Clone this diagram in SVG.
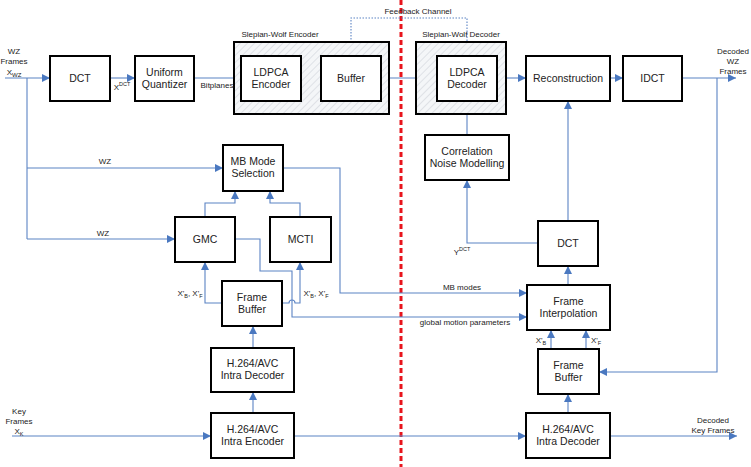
<svg xmlns="http://www.w3.org/2000/svg" width="751" height="467" viewBox="0 0 751 467">
<style>
.box{fill:#fff;stroke:#000;stroke-width:2}
.sw{fill:url(#hatch);stroke:#000;stroke-width:2}
.t{font-family:"Liberation Sans",Arial,sans-serif;font-size:10.5px;fill:#222;text-anchor:middle}
.s{font-family:"Liberation Sans",Arial,sans-serif;font-size:8px;fill:#222;text-anchor:middle}
.c{fill:none;stroke:#5b83c4;stroke-width:1.1}
.a{marker-end:url(#arr)}
.dot{fill:none;stroke:#5b83c4;stroke-width:1.1;stroke-dasharray:1.5,1.5}
</style>
<defs>
<pattern id="hatch" patternUnits="userSpaceOnUse" width="5" height="5" patternTransform="rotate(45)">
<rect width="5" height="5" fill="#f4f6f8"/>
<line x1="0" y1="0" x2="0" y2="5" stroke="#c8cdd4" stroke-width="1"/>
</pattern>
<marker id="arr" markerUnits="userSpaceOnUse" markerWidth="8" markerHeight="8" refX="8" refY="4" orient="auto">
<path d="M0,0 L8,4 L0,8 z" fill="#4a78c0"/>
</marker>
</defs>

<line x1="401" y1="0" x2="401" y2="467" stroke="#e8141c" stroke-width="3" stroke-dasharray="5,3"/>

<g id="connectors">
<path class="c a" d="M5,78 H50"/>
<path class="c a" d="M110,78 H135"/>
<path class="c a" d="M194,78 H241"/>
<path class="c a" d="M301,78 H321"/>
<path class="c a" d="M381,78 H437"/>
<path class="c a" d="M497,78 H526"/>
<path class="c a" d="M610,78 H623"/>
<path class="c a" d="M682,78 H736"/>
<path class="dot a" d="M467,56 V18 H351 V56"/>
<path class="c" d="M27,78 V239"/>
<path class="c a" d="M27,168 H223"/>
<path class="c a" d="M27,239 H175"/>
<path class="c a" d="M205,217 V203 H235 V191"/>
<path class="c a" d="M300,217 V203 H270 V191"/>
<path class="c a" d="M222,303 H205 V262"/>
<path class="c a" d="M282,303 H289 A3,3 0 0 1 295,303 H300 V262"/>
<path class="c a" d="M283,168 H340 V293 H527"/>
<path class="c a" d="M235,239 H260 V271 H292 V317 H527"/>
<path class="c a" d="M253,348 V326"/>
<path class="c a" d="M253,413 V392"/>
<path class="c a" d="M12,436 H211"/>
<path class="c a" d="M294,436 H526"/>
<path class="c a" d="M610,436 H737"/>
<path class="c a" d="M568,413 V394"/>
<path class="c a" d="M551,349 V330"/>
<path class="c a" d="M586,349 V330"/>
<path class="c a" d="M568,285 V266"/>
<path class="c a" d="M568,221 V101"/>
<path class="c a" d="M538,243 H467 V180"/>
<path class="c a" d="M467,135 V101"/>
<path class="c a" d="M717,78 V372 H599"/>
</g>

<g id="sw-encoder"><rect class="sw" x="234" y="42" width="155" height="72"/><text class="s" x="280" y="37">Slepian-Wolf Encoder</text></g>
<g id="sw-decoder"><rect class="sw" x="416" y="42" width="90" height="72"/><text class="s" x="461" y="37">Slepian-Wolf Decoder</text></g>

<g id="dct1"><rect class="box" x="50" y="56" width="60" height="45"/><text class="t" x="80" y="82">DCT</text></g>
<g id="quant"><rect class="box" x="135" y="56" width="59" height="45"/><text class="t" x="164.500" y="76">Uniform</text><text class="t" x="164.500" y="88">Quantizer</text></g>
<g id="ldpca-enc"><rect class="box" x="241" y="56" width="60" height="45"/><text class="t" x="271" y="76">LDPCA</text><text class="t" x="271" y="88">Encoder</text></g>
<g id="buffer"><rect class="box" x="321" y="56" width="60" height="45"/><text class="t" x="351" y="82">Buffer</text></g>
<g id="ldpca-dec"><rect class="box" x="437" y="56" width="60" height="45"/><text class="t" x="467" y="76">LDPCA</text><text class="t" x="467" y="88">Decoder</text></g>
<g id="recon"><rect class="box" x="526" y="56" width="84" height="45"/><text class="t" x="568" y="82">Reconstruction</text></g>
<g id="idct"><rect class="box" x="623" y="56" width="59" height="45"/><text class="t" x="652.500" y="82">IDCT</text></g>
<g id="cnm"><rect class="box" x="425" y="135" width="84" height="45"/><text class="t" x="467" y="155">Correlation</text><text class="t" x="467" y="167">Noise Modelling</text></g>
<g id="mbms"><rect class="box" x="223" y="145" width="60" height="46"/><text class="t" x="253" y="165">MB Mode</text><text class="t" x="253" y="177">Selection</text></g>
<g id="gmc"><rect class="box" x="175" y="217" width="60" height="45"/><text class="t" x="205" y="243">GMC</text></g>
<g id="mcti"><rect class="box" x="270" y="217" width="61" height="45"/><text class="t" x="300.500" y="243">MCTI</text></g>
<g id="dct2"><rect class="box" x="538" y="221" width="60" height="45"/><text class="t" x="568" y="247">DCT</text></g>
<g id="fbuf1"><rect class="box" x="222" y="281" width="60" height="45"/><text class="t" x="252" y="301">Frame</text><text class="t" x="252" y="313">Buffer</text></g>
<g id="finterp"><rect class="box" x="527" y="285" width="83" height="45"/><text class="t" x="568.500" y="305">Frame</text><text class="t" x="568.500" y="317">Interpolation</text></g>
<g id="intradec1"><rect class="box" x="211" y="348" width="83" height="44"/><text class="t" x="252.500" y="367">H.264/AVC</text><text class="t" x="252.500" y="379">Intra Decoder</text></g>
<g id="fbuf2"><rect class="box" x="538" y="349" width="61" height="45"/><text class="t" x="568.500" y="369">Frame</text><text class="t" x="568.500" y="381">Buffer</text></g>
<g id="intraenc"><rect class="box" x="211" y="413" width="83" height="45"/><text class="t" x="252.500" y="433">H.264/AVC</text><text class="t" x="252.500" y="445">Intra Encoder</text></g>
<g id="intradec2"><rect class="box" x="526" y="413" width="84" height="45"/><text class="t" x="568" y="433">H.264/AVC</text><text class="t" x="568" y="445">Intra Decoder</text></g>

<g id="labels">
<text class="s" x="418" y="14">Feedback Channel</text>
<text class="s" x="14" y="54">WZ</text>
<text class="s" x="14" y="64">Frames</text>
<text class="s" x="14" y="75">X<tspan font-size="6" dy="2">WZ</tspan></text>
<text class="s" x="122" y="90">X<tspan font-size="5.5" dy="-4">DCT</tspan></text>
<text class="s" x="217" y="88">Bitplanes</text>
<text class="s" x="733" y="54">Decoded</text>
<text class="s" x="733" y="64">WZ</text>
<text class="s" x="733" y="74">Frames</text>
<text class="s" x="105" y="164">WZ</text>
<text class="s" x="103" y="236">WZ</text>
<text class="s" x="190" y="296">X'<tspan font-size="5.5" dy="1.5">B</tspan><tspan dy="-1.5">, X'</tspan><tspan font-size="5.5" dy="1.5">F</tspan></text>
<text class="s" x="316" y="296">X'<tspan font-size="5.5" dy="1.5">B</tspan><tspan dy="-1.5">, X'</tspan><tspan font-size="5.5" dy="1.5">F</tspan></text>
<text class="s" x="462" y="255">Y<tspan font-size="5.5" dy="-4">DCT</tspan></text>
<text class="s" x="462" y="290">MB modes</text>
<text class="s" x="465" y="325">global motion parameters</text>
<text class="s" x="541" y="343">X'<tspan font-size="5.5" dy="1.5">B</tspan></text>
<text class="s" x="596" y="343">X'<tspan font-size="5.5" dy="1.5">F</tspan></text>
<text class="s" x="19" y="414">Key</text>
<text class="s" x="19" y="424">Frames</text>
<text class="s" x="19" y="434">X<tspan font-size="5.5" dy="1.5">K</tspan></text>
<text class="s" x="713" y="423">Decoded</text>
<text class="s" x="713" y="433">Key Frames</text>
</g>
</svg>
